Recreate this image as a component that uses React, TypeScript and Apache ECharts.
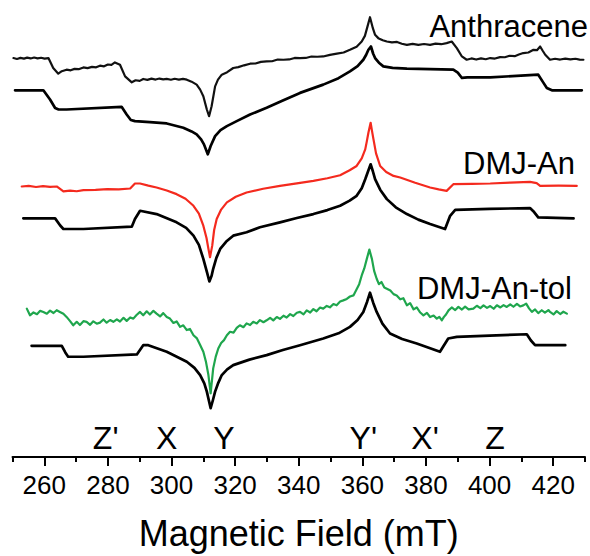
import React, { useEffect, useRef } from "react";
import * as echarts from "echarts";

// Magnetic field (mT) vs. signal (arbitrary units, traces stacked with offsets)
const anthraceneExp: [number, number][] = [[250.3,400.7],[251.4,399.8],[252.5,400.9],[253.6,400.1],[254.6,401.1],[255.7,400.3],[256.8,401.2],[257.9,400.4],[259,401],[260.1,400.1],[261.3,400.7],[262.8,390.7],[264.4,385],[265.5,387.5],[267.0,389],[268.3,388.4],[269.5,389.8],[270.8,389.5],[272.3,391.3],[273.6,390.6],[275,391.8],[276.3,391.4],[277.5,393],[278.8,392.4],[280,394.2],[281.1,393.9],[282.2,396.3],[283.8,394],[285.4,382.3],[287.5,376.3],[288.7,378.4],[290,377.8],[291.1,379.7],[292.4,378.8],[293.7,380],[295,379.1],[296.2,380.1],[297.4,379.3],[298.5,379.7],[299.8,378.9],[301,379.9],[302.3,379.1],[303.6,379.8],[304.8,379],[306.3,377],[307.9,374],[309,369],[310.0,362.3],[311.1,349],[311.8,342.3],[312.6,352.3],[313.7,372.3],[314.6,379],[315.8,384],[317.5,386.5],[319.4,390.7],[321,391.6],[322.8,393.4],[324.7,395],[326.4,395.2],[328.1,396.8],[329.9,397.3],[331.6,397.5],[333.4,399.2],[335.2,399],[337,399.3],[338.7,400.8],[340.4,400.7],[342.2,400.8],[344,402.2],[345.8,402],[347.7,402.3],[349.8,403.9],[352,405.1],[354.1,406.3],[356.1,409],[358.2,412.1],[359.8,417.3],[360.8,423],[361.6,432.3],[362.4,441.7],[363.3,430.7],[364,424],[365.0,420.7],[366.4,418.6],[367.7,417.3],[369.3,416.4],[370.9,416.9],[372.4,415.1],[374.0,414],[375.8,415],[377.6,413.9],[379.4,414.8],[381.3,414],[383,415.2],[384.8,414.6],[386.5,415.7],[388.1,417.3],[389.7,410.7],[391.3,402.3],[392.8,399],[394.3,400.3],[395.8,399.2],[397.3,400.4],[398.8,399.5],[400.2,400.7],[401.7,400.2],[403.3,401.6],[404.8,401.5],[406.3,403],[407.9,402.6],[409.2,404.2],[410.6,405.7],[412.2,406.3],[413.8,409],[414.9,408.6],[415.9,412.3],[416.7,408],[417.5,404],[419.0,399],[420.6,400],[422.2,399.2],[423.8,400.1],[425.4,399.3],[427,400],[428.3,399.1],[429.5,399]];

const anthraceneSim: [number, number][] = [[250.8,368.3],[259.7,368.3],[261.8,359],[263.4,350.5],[264.5,349],[267.0,349],[284.3,351.7],[285.9,344],[287.2,338.5],[288.5,337.3],[293.2,336.3],[298.5,335],[303.7,330.7],[306.3,327],[307.9,324],[309.3,319],[310.2,314],[311.4,304],[312.3,312.3],[313.7,322.3],[315.4,328.3],[317.4,332.3],[320.5,337.3],[324.7,344],[329.9,350.7],[335,358],[340.4,365.7],[347.7,374],[352.5,380.5],[356.1,387.3],[358.5,392.5],[360.3,399],[361.2,404],[361.9,409],[362.7,412.3],[363.4,405],[364.0,400.7],[365.2,396],[366.6,392.3],[369.5,390.8],[374.0,390],[388.6,389],[390,386],[391.3,380.7],[393,381.3],[400.2,381.3],[415.3,384],[416.7,377],[418.0,370.7],[419.6,368.3],[429.0,368.3]];

const dmjAnExp: [number, number][] = [[252.9,271.7],[255.1,272.3],[257.4,271.2],[259.6,272.1],[261.8,271.4],[263.9,271.7],[266.0,266.7],[268.1,267.6],[270.2,266.9],[272.3,268],[276.1,268.3],[279.8,269.1],[283.4,268.8],[287.0,269.7],[288.5,274.7],[290.1,274.7],[292.7,272.6],[295.3,270.7],[298.5,267.7],[301.6,264],[304.4,259.4],[306.9,252.3],[308.6,244.5],[310.0,232.3],[311.0,220],[311.6,209],[312.1,200.7],[312.8,212.3],[313.4,228],[314.2,239],[315.6,248.5],[317.4,255.7],[320.2,261.4],[323.6,265.7],[328.8,269.4],[334.1,272.3],[339.4,274.9],[344.6,277.3],[349,280],[353.0,283],[356,288],[358.2,292.3],[359.8,300],[360.9,309],[361.4,317],[361.9,325.7],[362.6,335.7],[363.0,328],[363.5,319],[364.3,305],[365.6,292.3],[367.5,286.3],[369.8,282.3],[371.9,280.7],[376.6,275.4],[381.3,270.7],[384,268.8],[386.5,267.3],[388.6,274],[394.4,274.3],[400.2,274.7],[406.5,275.6],[412.7,276.3],[414.8,275],[415.9,272.3],[421.7,272.5],[427.4,272.3]];

const dmjAnSim: [number, number][] = [[253.4,239.7],[263.4,239.7],[265.0,232.5],[266.0,229],[272.3,229],[287.5,231.3],[288.5,239],[290.1,247.3],[295.3,244],[301.6,235.7],[304.6,230.2],[306.9,222.3],[308.6,213],[310.0,199],[311.2,185],[311.9,176.3],[312.6,182],[313.1,189],[314.1,200],[315.3,209],[317.2,216.4],[319.4,222.3],[323.6,225.7],[327.8,230.7],[334.1,235.7],[339.4,240],[344.6,244],[349,248],[353.0,252.3],[356,257.5],[358.2,262.3],[359.8,270],[360.9,279],[361.8,287],[362.6,294],[363.3,287],[364.0,279],[365.6,268.5],[367.7,259],[370.5,250.8],[374.0,244],[377.6,238.4],[381.3,234],[386.0,229],[387.6,242.3],[389.2,248.3],[400,249.2],[412.7,250],[414,246],[415.3,240.7],[426.4,239.7]];

const dmjAnTolExp: [number, number][] = [[254.5,149],[255.5,142.3],[256.6,145.2],[257.7,143.4],[258.7,146.8],[259.7,145.7],[260.8,143.9],[261.8,147],[262.9,144.6],[263.9,147.4],[264.9,145.7],[266,143.9],[267.0,140.7],[268.1,136.5],[269.1,132.3],[270.2,135.8],[271.2,132.6],[272.3,136.4],[273.3,135.7],[274.4,132.8],[275.4,136.3],[276.5,133.9],[277.5,135],[278.6,138.1],[279.6,134.9],[280.7,137.6],[281.7,135.8],[282.8,138.3],[283.8,136.1],[284.9,139.8],[285.9,136.7],[287,140.2],[288.0,139],[289,142.6],[290.1,145.7],[291.1,142.4],[292.2,146.3],[293.2,143.1],[294.3,146.8],[295.3,144],[296.4,141.2],[297.4,144.5],[298.5,140.6],[299.5,139],[300.6,134.6],[301.6,136.2],[302.7,130.7],[303.7,132.3],[304.8,127.5],[305.8,128.6],[306.9,122.3],[308,119.1],[309,112.5],[310.0,105.7],[310.8,96],[311.6,82.3],[312.3,64],[313.1,89],[313.9,100.8],[314.7,109],[315.6,114.5],[316.5,117.4],[317.4,122.3],[318.4,125.8],[319.5,124.9],[320.5,129.6],[321.5,132.3],[322.6,130.4],[323.6,134.2],[324.7,132.5],[325.7,135.8],[326.8,134.1],[327.8,137.5],[328.9,135.4],[329.9,137.3],[331,139.8],[332,137.2],[333.1,140.6],[334.1,138.7],[335.2,141.9],[336.2,140.1],[337.3,143.5],[338.3,141.6],[339.4,144.9],[340.4,145.7],[341.5,143.2],[342.5,147.3],[343.6,145.1],[344.6,148.6],[345.6,146.4],[346.7,150.1],[347.7,149],[348.8,151.7],[349.8,150.3],[350.9,153.6],[351.9,152.4],[353,156.1],[354.0,157.3],[355.1,158.8],[356.1,161.2],[357.2,162.3],[358.2,168.5],[359,173.6],[359.8,182.3],[360.6,189.4],[361.4,199],[362.2,208.3],[363.0,199],[363.7,186.9],[364.5,179],[365.2,173.6],[366,175.8],[366.9,170.2],[367.7,169],[368.8,167.2],[369.8,163.6],[370.8,162.3],[371.9,158.4],[372.9,159.5],[374.0,152.3],[375,154.6],[376.1,148.3],[377.1,150.2],[378.2,145.1],[379.2,142.3],[380.3,144.8],[381.3,140.6],[382.4,142.1],[383.4,139],[384.2,140.8],[385.0,137.3],[385.6,140.5],[386.3,143.1],[387.1,147.3],[388.1,150.2],[389.2,147.6],[390.2,150.8],[391.3,148.1],[392.3,151],[393.4,148.3],[394.9,149],[396,151.9],[397.1,149.5],[398.1,152.3],[399.2,149.8],[400.2,151.6],[401.3,148.9],[402.3,152.4],[403.4,150.2],[404.4,152.5],[405.4,150.7],[406.5,153.4],[407.5,150.9],[408.6,153.8],[409.6,151.2],[410.6,152.3],[411.5,154.1],[412.4,149.3],[413.3,145.7],[414.3,148.2],[415.3,144.5],[416.4,147.4],[417.4,144.9],[418.5,147.6],[419.0,145.7],[420.1,143.2],[421.1,146.5],[422.2,143.6],[423.2,145.9],[424.3,144]];

const dmjAnTolSim: [number, number][] = [[256.0,111.7],[265.5,111.7],[266.6,105],[267.5,100.7],[272.3,100.7],[289.1,103],[291.1,112.3],[292.7,112.3],[298.5,105.7],[304.8,95.7],[307.2,89.5],[309.0,82.3],[310.3,74],[311.1,65.7],[312.3,49],[313.0,57],[313.7,65.7],[314.7,74.5],[315.8,82.3],[317.5,88],[319.4,92.3],[324.5,97.8],[329.9,102.3],[335,107.5],[340.4,112.3],[347.7,119],[352.5,124.2],[356.1,130.7],[358.5,137.5],[360.3,145.7],[361.5,156],[362.4,165],[363.4,155],[364.5,145.7],[366.3,134],[368.7,124],[372.5,118.5],[377.1,114],[384.4,105.7],[387.0,119],[389.7,120.7],[400,122],[411.7,123.3],[413,117],[414.3,112.3],[423.8,112.3]];

const majorTicks = [260, 280, 300, 320, 340, 360, 380, 400, 420];
const minorTicks = [250, 270, 290, 310, 330, 350, 370, 390, 410, 430];

const transitionNames = ["Z'", "X", "Y", "Y'", "X'", "Z"];
const transitionFields = [279.3, 298.5, 316.5, 360.3, 379.7, 401.7];
const transitionLabelLevel = 19;

const traceNames = ["Anthracene", "DMJ-An", "DMJ-An-tol"];

const FONT = "'Liberation Sans', Arial, Helvetica, sans-serif";

export default function App() {
  const ref = useRef<HTMLDivElement>(null);
  useEffect(() => {
    if (!ref.current) return;
    const chart = echarts.init(ref.current, undefined, { renderer: "svg" });
    const line = (data: [number, number][], color: string, width: number) => ({
      type: "line",
      data,
      xAxisIndex: 0,
      yAxisIndex: 0,
      showSymbol: false,
      symbol: "none",
      silent: true,
      lineStyle: { color, width, join: "round", cap: "round" },
      clip: false,
    });
    const nameText = (text: string, x: number, y: number) => ({
      type: "text",
      x,
      y,
      style: {
        text,
        fontSize: 31,
        fontFamily: FONT,
        fill: "#000",
        align: "right",
        verticalAlign: "middle",
      },
    });
    chart.setOption({
      animation: false,
      backgroundColor: "#ffffff",
      grid: { left: 12.5, right: 5, top: 0, bottom: 97 },
      xAxis: [
        {
          type: "value",
          min: 250,
          max: 430,
          position: "bottom",
          axisLine: { show: true, lineStyle: { color: "#000", width: 2 } },
          axisTick: {
            show: true,
            customValues: majorTicks,
            length: 9,
            lineStyle: { color: "#000", width: 2 },
          },
          axisLabel: {
            show: true,
            customValues: majorTicks,
            fontSize: 26,
            color: "#000",
            fontFamily: FONT,
            margin: 15,
          },
          splitLine: { show: false },
          name: "Magnetic Field (mT)",
          nameLocation: "middle",
          nameGap: 58,
          nameTextStyle: { fontSize: 36, color: "#000", fontFamily: FONT },
        },
        {
          type: "value",
          min: 250,
          max: 430,
          position: "bottom",
          axisLine: { show: false },
          axisTick: {
            show: true,
            customValues: minorTicks,
            length: 5,
            lineStyle: { color: "#000", width: 2 },
          },
          axisLabel: { show: false },
          splitLine: { show: false },
        },
      ],
      yAxis: { type: "value", min: 0, max: 459, show: false },
      series: [
        line(anthraceneExp, "#111111", 2.2),
        line(anthraceneSim, "#000000", 2.7),
        line(dmjAnExp, "#f42a1e", 2.2),
        line(dmjAnSim, "#000000", 2.7),
        line(dmjAnTolExp, "#1fa64d", 2.2),
        line(dmjAnTolSim, "#000000", 2.7),
        {
          type: "scatter",
          symbolSize: 0,
          silent: true,
          itemStyle: { opacity: 1 },
          data: transitionNames.map((n, i) => ({
            name: n,
            value: [transitionFields[i], transitionLabelLevel],
          })),
          label: {
            show: true,
            position: "inside",
            formatter: "{b}",
            fontSize: 32,
            color: "#000",
            opacity: 1,
            fontFamily: FONT,
          },
        },
      ],
      graphic: [
        nameText(traceNames[0], 588, 26),
        nameText(traceNames[1], 575, 163),
        nameText(traceNames[2], 572, 288),
      ],
    });
    return () => chart.dispose();
  }, []);
  return (
    <div
      ref={ref}
      style={{ position: "fixed", left: 0, top: 0, width: 590, height: 556, background: "#fff" }}
    />
  );
}
